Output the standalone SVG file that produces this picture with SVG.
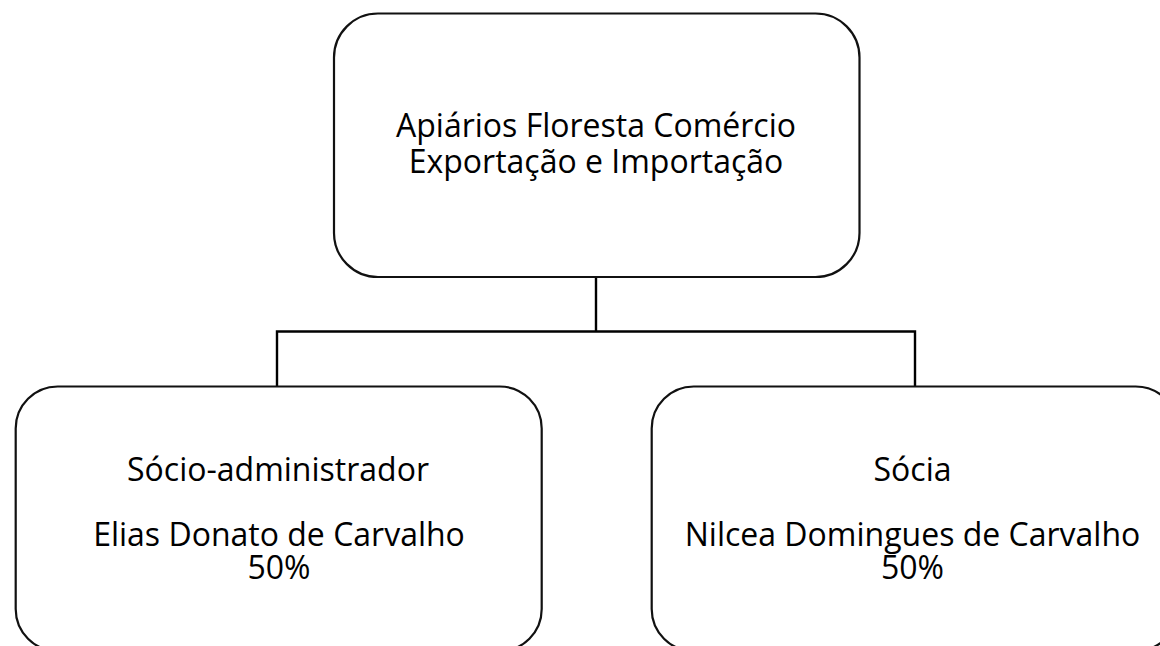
<svg xmlns="http://www.w3.org/2000/svg" width="1160" height="646" viewBox="0 0 1160 646">
<style>
.box{fill:#fff;stroke:#111;stroke-width:2.2}
.lnk{fill:none;stroke:#000;stroke-width:2.4}
.t{font-family:"Open Sans","Liberation Sans",sans-serif;font-size:32px;fill:#000;text-anchor:middle}
</style>
<rect width="1160" height="646" fill="#fff"/>
<g id="connectors">
<path class="lnk" d="M596 277V331.5M277 331.5H915M277 330.3V386.5M915 330.3V386.5"/>
</g>
<g id="node-top">
<rect class="box" x="334" y="13.5" width="525.5" height="263.5" rx="44" ry="44"/>
<text class="t" x="596" y="137">Apiários Floresta Comércio</text>
<text class="t" x="596" y="173">Exportação e Importação</text>
</g>
<g id="node-left">
<rect class="box" x="15.7" y="386.5" width="526" height="264.5" rx="42" ry="42"/>
<text class="t" x="278" y="481">Sócio-administrador</text>
<text class="t" x="279" y="546">Elias Donato de Carvalho</text>
<text class="t" x="279" y="579">50%</text>
</g>
<g id="node-right">
<rect class="box" x="651.7" y="386.5" width="526" height="264.5" rx="42" ry="42"/>
<text class="t" x="912.5" y="481">Sócia</text>
<text class="t" x="912.5" y="546">Nilcea Domingues de Carvalho</text>
<text class="t" x="912.5" y="579">50%</text>
</g>
</svg>
